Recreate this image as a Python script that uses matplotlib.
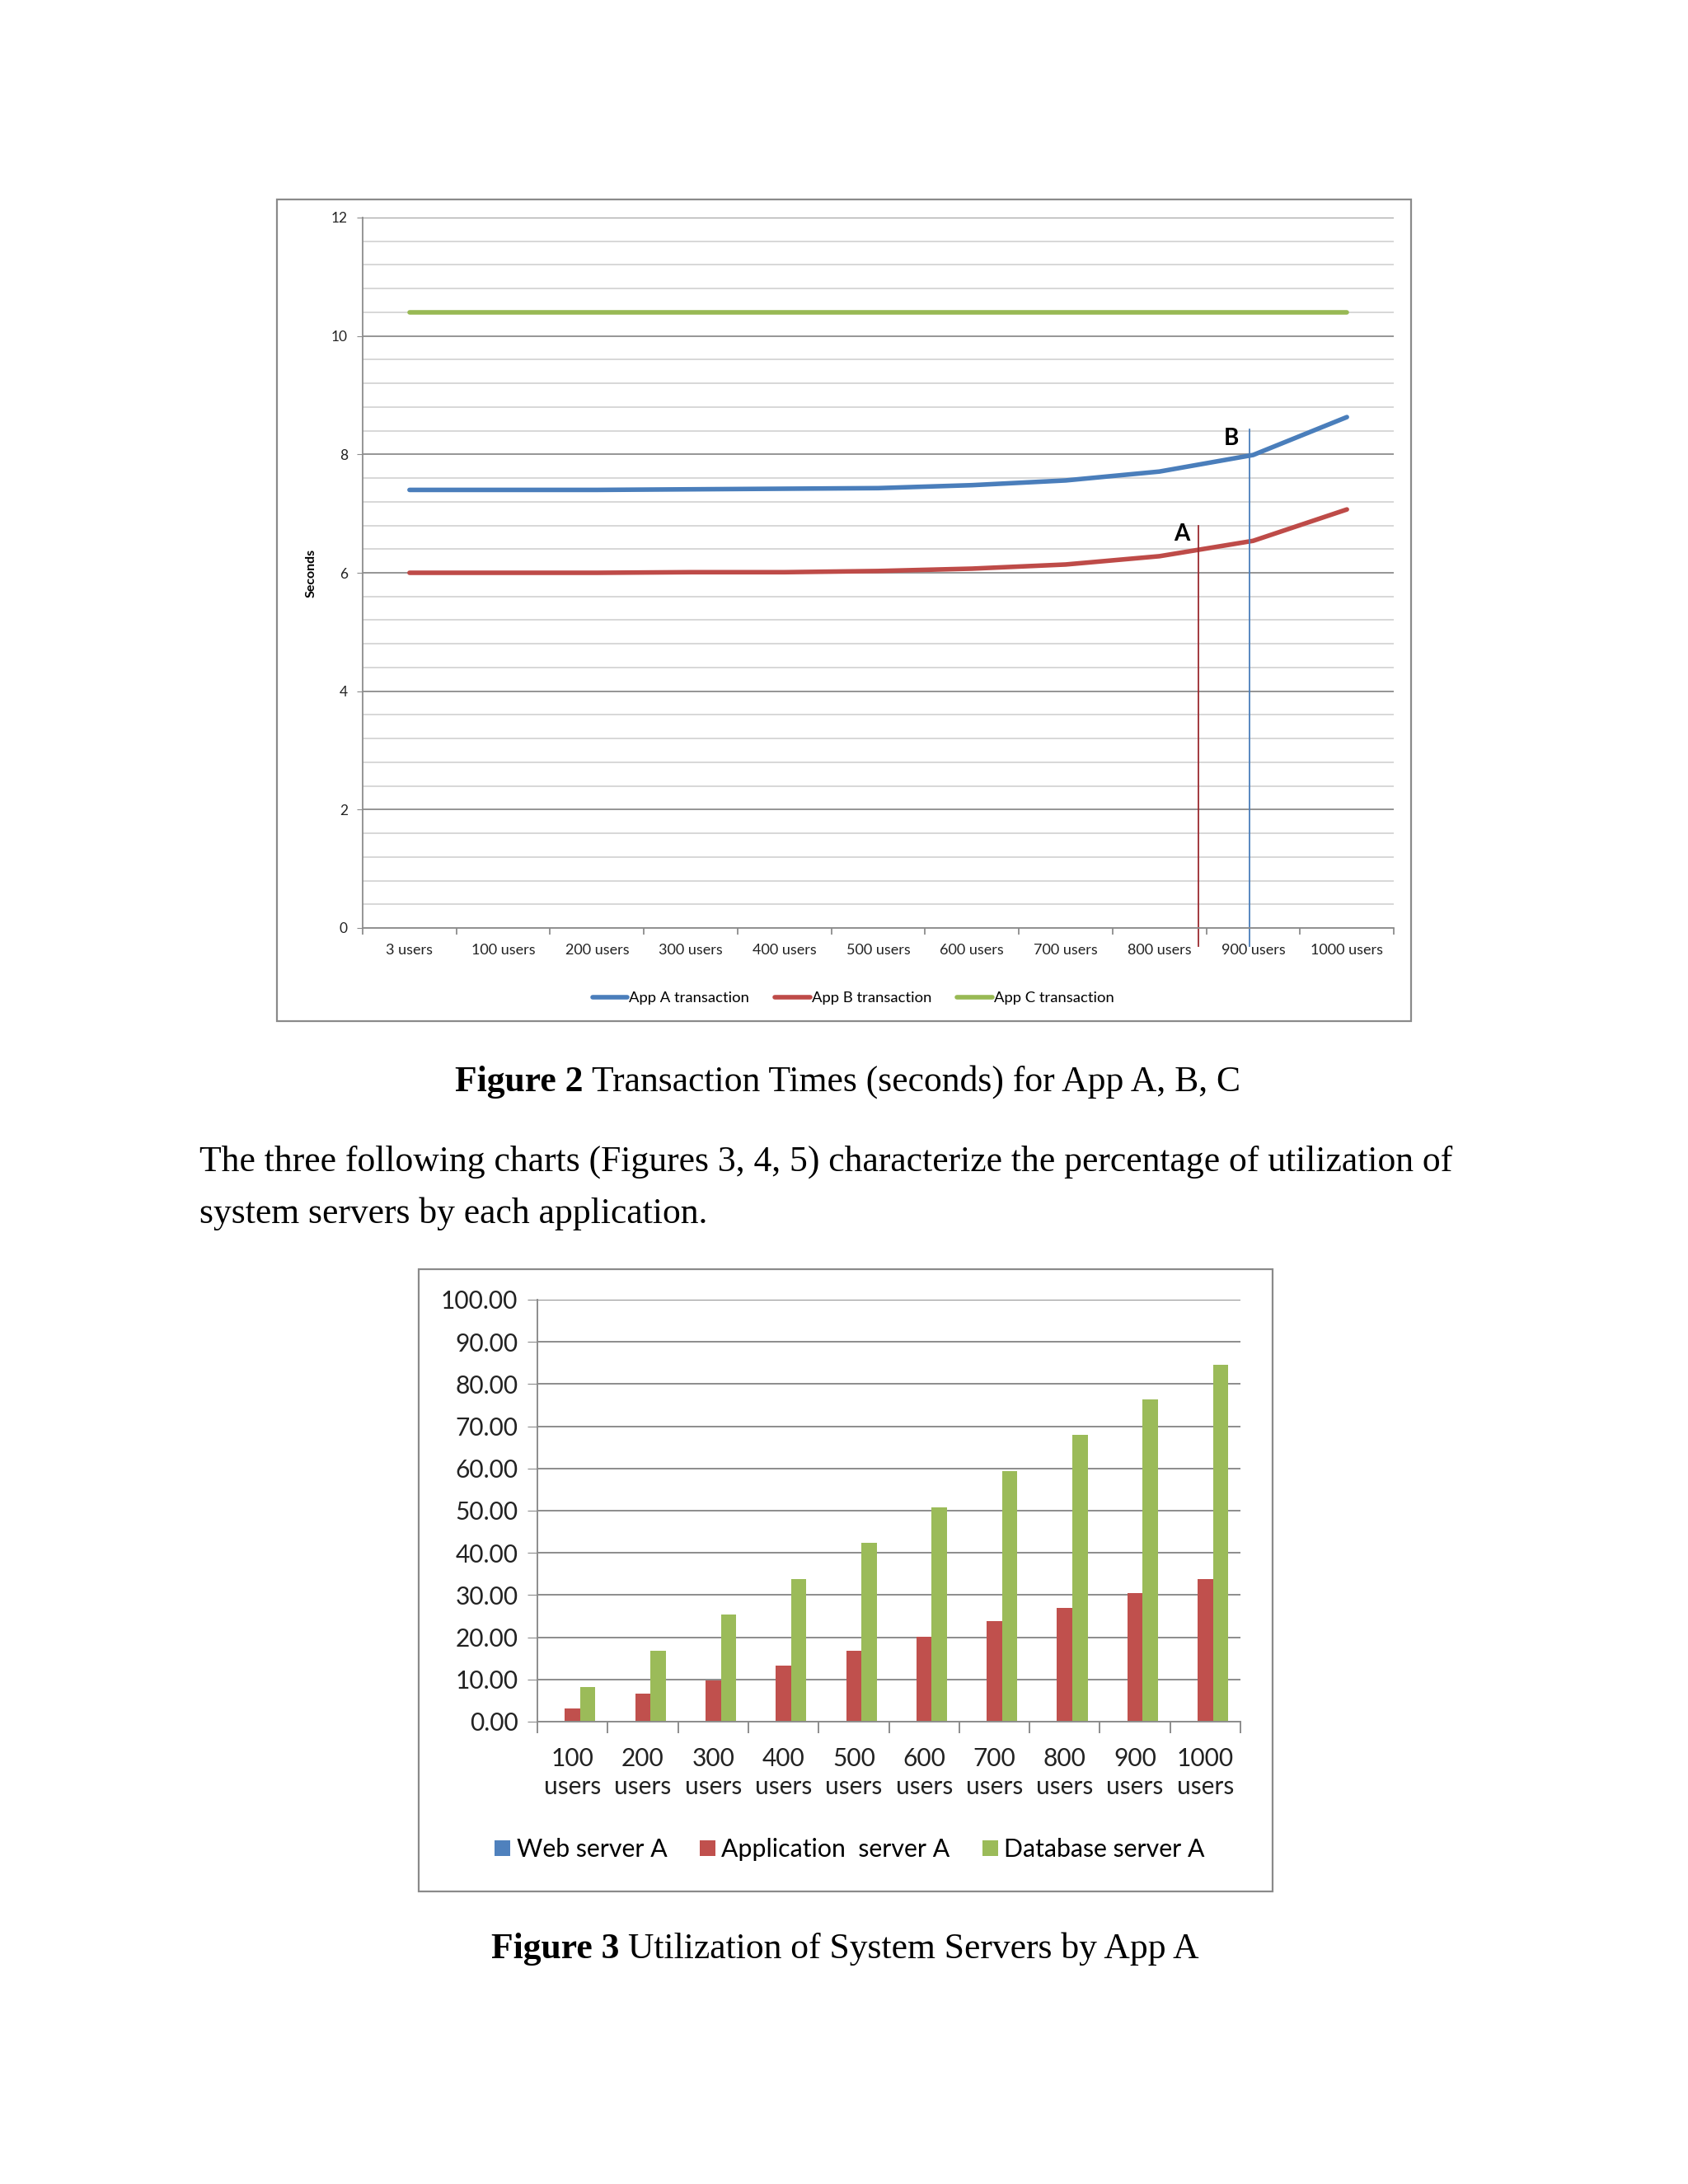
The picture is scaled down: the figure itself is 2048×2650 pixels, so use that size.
import matplotlib.pyplot as plt
from matplotlib.patches import Rectangle
import numpy as np

# ---- data: Figure 2 (transaction times) ----
load_labels = ["3 users", "100 users", "200 users", "300 users", "400 users", "500 users",
               "600 users", "700 users", "800 users", "900 users", "1000 users"]
app_a = [7.40, 7.40, 7.40, 7.41, 7.42, 7.43, 7.48, 7.56, 7.71, 7.99, 8.63]
app_b = [6.00, 6.00, 6.00, 6.01, 6.01, 6.03, 6.07, 6.14, 6.28, 6.54, 7.07]
app_c = [10.40, 10.40, 10.40, 10.40, 10.40, 10.40, 10.40, 10.40, 10.40, 10.40, 10.40]

# markers A and B (x in category units, y in seconds)
mark_a = (8.42, 6.79, -0.31)
mark_b = (8.96, 8.42, -0.31)

# ---- data: Figure 3 (server utilization) ----
util_labels = ["100\nusers", "200\nusers", "300\nusers", "400\nusers", "500\nusers",
               "600\nusers", "700\nusers", "800\nusers", "900\nusers", "1000\nusers"]
web_a = [0, 0, 0, 0, 0, 0, 0, 0, 0, 0]
app_server_a = [3.2, 6.6, 9.8, 13.3, 16.8, 20.2, 23.8, 26.9, 30.4, 33.8]
db_server_a = [8.2, 16.8, 25.3, 33.8, 42.3, 50.7, 59.3, 67.9, 76.4, 84.6]

W, H = 2048, 2650
BLUE, RED, GREEN = "#4a7ebb", "#be4b48", "#98b954"
GRID_MAJ, GRID_MIN = "#8c8c8c", "#d4d4d4"
SANS = ["Lato", "DejaVu Sans"]
SERIF = ["Liberation Serif", "DejaVu Serif"]
SERIF_SIZE = 31.4

plt.rcParams['font.family'] = SANS


def fx(px):
    return px / W


def fy(py):
    return 1 - py / H


def axes_px(fig, left, top, right, bottom):
    return fig.add_axes([fx(left), fy(bottom), fx(right) - fx(left), fy(top) - fy(bottom)])


def frame(fig, left, top, right, bottom):
    fig.patches.append(Rectangle((fx(left), fy(bottom)), fx(right) - fx(left), fy(top) - fy(bottom),
                                 transform=fig.transFigure, fill=False, edgecolor="#8a8a8a", lw=1.6))


fig = plt.figure(figsize=(W / 100, H / 100), dpi=100)
fig.patch.set_facecolor("white")

# ================= Figure 2 =================
frame(fig, 336, 242, 1712, 1239)
ax = axes_px(fig, 440, 264, 1691, 1126)
x = np.arange(len(load_labels))
ax.set_xlim(-0.5, len(load_labels) - 0.5)
ax.set_ylim(0, 12)
ax.set_yticks(np.arange(0, 13, 2))
ax.set_yticks(np.arange(0, 12.01, 0.4), minor=True)
ax.yaxis.grid(True, which="minor", color=GRID_MIN, lw=1.3)
ax.yaxis.grid(True, which="major", color=GRID_MAJ, lw=1.3)
ax.set_axisbelow(True)
for s in ["top", "right"]:
    ax.spines[s].set_visible(False)
for s in ["left", "bottom"]:
    ax.spines[s].set_color("#8c8c8c")
    ax.spines[s].set_linewidth(1.3)
ax.tick_params(axis="y", which="major", length=5, color="#8c8c8c", labelsize=12.5, pad=8,
               labelcolor="#222222")
ax.tick_params(axis="y", which="minor", length=0)
ax.set_xticks(x)
ax.set_xticklabels(load_labels)
ax.set_xticks(np.arange(-0.5, len(load_labels)), minor=True)
ax.tick_params(axis="x", which="major", length=0, labelsize=13, pad=14, labelcolor="#222222")
ax.tick_params(axis="x", which="minor", length=6, color="#8c8c8c", width=1.3)

ax.plot(x, app_a, color=BLUE, lw=4, solid_capstyle="round", label="App A transaction")
ax.plot(x, app_b, color=RED, lw=4, solid_capstyle="round", label="App B transaction")
ax.plot(x, app_c, color=GREEN, lw=4, solid_capstyle="round", label="App C transaction")

ax.plot([mark_a[0], mark_a[0]], [mark_a[1], mark_a[2]], color="#9b2a2f", lw=1.3, clip_on=False)
ax.plot([mark_b[0], mark_b[0]], [mark_b[1], mark_b[2]], color="#4a7ebb", lw=1.3, clip_on=False)
ax.text(mark_a[0] - 0.18, 6.65, "A", ha="center", va="center", fontsize=20, fontweight="bold")
ax.text(mark_b[0] - 0.19, 8.27, "B", ha="center", va="center", fontsize=20, fontweight="bold")

ax.set_ylabel("Seconds", fontsize=11.5, fontweight="bold")
ax.yaxis.set_label_coords(fx(385 - 440) / (fx(1691) - fx(440)), 0.5)

ax.legend(loc="center", bbox_to_anchor=(fx(1035), fy(1211)), bbox_transform=fig.transFigure,
          ncol=3, frameon=False, fontsize=13.3, handlelength=2.3, handletextpad=0.1,
          columnspacing=1.7)

cap_y = fy(1313)
t1 = fig.text(fx(552), cap_y, "Figure 2", family=SERIF, fontsize=SERIF_SIZE, fontweight="bold",
              ha="left", va="center")
fig.canvas.draw()
bb = t1.get_window_extent()
fig.text(bb.x1 / W + fx(11), cap_y, "Transaction Times (seconds) for App A, B, C",
         family=SERIF, fontsize=SERIF_SIZE, ha="left", va="center")

fig.text(fx(242), fy(1410),
         "The three following charts (Figures 3, 4, 5) characterize the percentage of utilization of",
         family=SERIF, fontsize=SERIF_SIZE, ha="left", va="center")
fig.text(fx(242), fy(1473), "system servers by each application.",
         family=SERIF, fontsize=SERIF_SIZE, ha="left", va="center")

# ================= Figure 3 =================
frame(fig, 508, 1540, 1544, 2295)
bx = axes_px(fig, 652, 1577, 1505, 2089)
xb = np.arange(len(util_labels))
bw = 0.217
bx.bar(xb - bw, web_a, bw, color="#4f81bd", label="Web server A")
bx.bar(xb, app_server_a, bw, color="#c0504d", label="Application  server A")
bx.bar(xb + bw, db_server_a, bw, color="#9bbb59", label="Database server A")
bx.set_xlim(-0.5, len(util_labels) - 0.5)
bx.set_ylim(0, 100)
bx.set_yticks(np.arange(0, 101, 10))
bx.set_yticklabels([f"{v:.2f}" for v in np.arange(0, 101, 10)])
bx.yaxis.grid(True, color=GRID_MAJ, lw=1.4)
bx.set_axisbelow(True)
for s in ["top", "right"]:
    bx.spines[s].set_visible(False)
for s in ["left", "bottom"]:
    bx.spines[s].set_color("#8c8c8c")
    bx.spines[s].set_linewidth(1.4)
bx.tick_params(axis="y", length=9, color="#8c8c8c", labelsize=21.5, pad=8, labelcolor="#222222")
bx.set_xticks(xb)
bx.set_xticklabels(util_labels, linespacing=1.3)
bx.set_xticks(np.arange(-0.5, len(util_labels)), minor=True)
bx.tick_params(axis="x", which="major", length=0, labelsize=21.5, pad=22, labelcolor="#222222")
bx.tick_params(axis="x", which="minor", length=10, color="#8c8c8c", width=1.4)

bx.legend(loc="center", bbox_to_anchor=(fx(1031), fy(2244)), bbox_transform=fig.transFigure,
          ncol=3, frameon=False, fontsize=21.8, handlelength=0.62, handleheight=0.62,
          handletextpad=0.25, columnspacing=1.3)

cap3_y = fy(2365)
t3 = fig.text(fx(596), cap3_y, "Figure 3", family=SERIF, fontsize=SERIF_SIZE, fontweight="bold",
              ha="left", va="center")
fig.canvas.draw()
bb3 = t3.get_window_extent()
fig.text(bb3.x1 / W + fx(11), cap3_y, "Utilization of System Servers by App A",
         family=SERIF, fontsize=SERIF_SIZE, ha="left", va="center")

fig.savefig("out.png", dpi=100, facecolor="white")
